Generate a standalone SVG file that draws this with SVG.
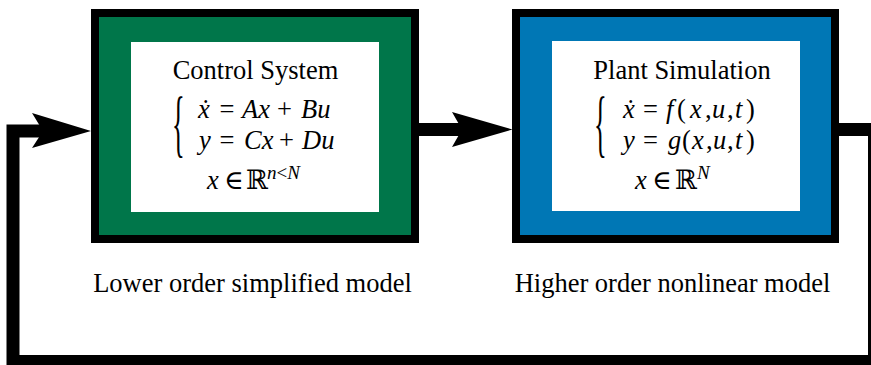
<svg xmlns="http://www.w3.org/2000/svg" width="871" height="365" viewBox="0 0 871 365">
<style>
text{font-family:'Liberation Serif','Times New Roman','DejaVu Serif',serif;font-size:26.5px;fill:#000}
.i{font-style:italic}
.sup{font-size:19px}
.wire{fill:none;stroke:#000;stroke-width:13;stroke-linejoin:miter}
</style>
<rect width="871" height="365" fill="#fff"/>
<g id="connectors">
<path class="wire" d="M839 129.5 H874.5 V361.5 H13 V131 H50"/>
<polygon points="91,131 32,113 43,131 32,148" fill="#000"/>
<path class="wire" d="M418 129.5 H470"/>
<polygon points="512.5,129.5 452,112 462,129.5 452,147" fill="#000"/>
</g>
<g id="control-system">
<rect x="95" y="13" width="320" height="226" fill="#00764A" stroke="#000" stroke-width="8"/>
<rect x="131" y="42" width="248" height="170" fill="#fff"/>
<text x="255.5" y="79" text-anchor="middle">Control System</text>
<text transform="translate(172,148) scale(1,2.8)">{</text>
<text y="118"><tspan class="i" x="198">ẋ</tspan><tspan x="219.5">=</tspan><tspan class="i" x="242">Ax</tspan><tspan x="277">+</tspan><tspan class="i" x="301">Bu</tspan></text>
<text y="149"><tspan class="i" x="199">y</tspan><tspan x="219.5">=</tspan><tspan class="i" x="244">Cx</tspan><tspan x="279">+</tspan><tspan class="i" x="302">Du</tspan></text>
<text y="189"><tspan class="i" x="207">x</tspan><tspan x="224">∈</tspan><tspan x="246">ℝ</tspan><tspan class="i sup" x="267" dy="-10">n</tspan><tspan class="sup">&lt;</tspan><tspan class="i sup">N</tspan></text>
</g>
<g id="plant-simulation">
<rect x="516" y="13" width="319" height="226" fill="#0077B5" stroke="#000" stroke-width="8"/>
<rect x="552" y="41" width="248" height="170" fill="#fff"/>
<text x="682" y="79" text-anchor="middle">Plant Simulation</text>
<text transform="translate(594,148) scale(1,2.8)">{</text>
<text y="118"><tspan class="i" x="623">ẋ</tspan><tspan x="643">=</tspan><tspan class="i" x="666">f</tspan><tspan x="677">(</tspan><tspan class="i" x="690">x</tspan><tspan x="705">,</tspan><tspan class="i" x="712">u</tspan><tspan x="727">,</tspan><tspan class="i" x="735">t</tspan><tspan x="746">)</tspan></text>
<text y="149"><tspan class="i" x="623">y</tspan><tspan x="643">=</tspan><tspan class="i" x="668">g</tspan><tspan x="682">(</tspan><tspan class="i" x="692">x</tspan><tspan x="706">,</tspan><tspan class="i" x="713">u</tspan><tspan x="727">,</tspan><tspan class="i" x="735">t</tspan><tspan x="746">)</tspan></text>
<text y="189"><tspan class="i" x="635">x</tspan><tspan x="652">∈</tspan><tspan x="675">ℝ</tspan><tspan class="i sup" x="697" dy="-10">N</tspan></text>
</g>
<g id="labels">
<text x="252.5" y="292" text-anchor="middle">Lower order simplified model</text>
<text x="672.5" y="292" text-anchor="middle">Higher order nonlinear model</text>
</g>
</svg>
